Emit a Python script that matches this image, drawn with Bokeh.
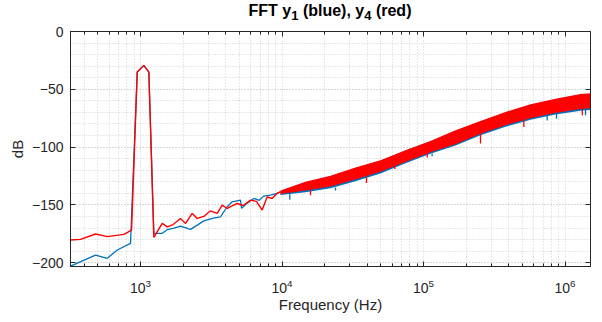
import numpy as np
from bokeh.plotting import figure
from bokeh.layouts import column
from bokeh.models import (LogAxis, LinearAxis, FixedTicker, Range1d, LogTickFormatter, Div)
from bokeh.embed import file_html
from bokeh.resources import INLINE

# ---------------- data ----------------
# explicit low/mid-frequency traces (Hz, dB)
blue_f = [320, 481, 582, 685, 850, 948, 1055, 1145, 1242, 1423, 1544, 1700, 1916,
          2256, 2516, 2800, 3210, 3670, 4098, 4445, 5088, 5180, 5600, 6325, 6900,
          7420, 8300, 9220, 9750]
blue_db = [-202.9, -193.4, -196.2, -189.0, -183.3, -35.1, -29.3, -35.1, -174.6,
           -174.6, -171.5, -170.3, -168.3, -171.2, -167.5, -163.8, -161.7, -160.3,
           -151.6, -147.3, -145.9, -153.0, -149.0, -144.4, -146.0, -142.4, -141.5,
           -140.1, -138.7]

red_f = [320, 376, 481, 582, 763, 864, 948, 1055, 1145, 1242, 1423, 1544, 1700,
         1916, 2080, 2318, 2516, 2800, 3122, 3482, 3778, 4098, 4400, 4815, 5300,
         5985, 6600, 7240, 7857, 8500, 9220, 9750]
red_db = [-180.4, -179.8, -175.2, -177.5, -175.5, -171.8, -35.1, -29.3, -35.1,
          -178.1, -166.0, -169.0, -167.0, -161.7, -166.0, -157.4, -161.7, -160.0,
          -155.1, -157.4, -150.2, -153.1, -151.0, -148.8, -150.5, -145.9, -147.0,
          -154.5, -143.0, -144.5, -140.1, -138.7]

# dense high-frequency noise band: upper / lower envelope (Hz, dB)
band_f = [9750, 14660, 22030, 33060, 49650, 74600, 112000, 168300, 252800,
          380000, 570500, 857000, 1288000, 1514000]
red_hi = [-137.5, -130.0, -124.8, -117.7, -111.4, -102.7, -94.7, -85.5, -77.4,
          -69.6, -63.0, -58.1, -54.0, -53.4]
red_lo = [-140.5, -137.5, -134.0, -128.0, -121.4, -112.8, -104.5, -97.5, -88.5,
          -81.0, -75.0, -70.5, -67.0, -66.5]
blue_hi = [-138.0, -130.5, -125.3, -118.0, -111.8, -103.0, -95.0, -86.0, -77.8,
           -70.0, -63.5, -58.6, -54.6, -54.0]
blue_lo = [-141.5, -139.0, -135.5, -129.5, -122.8, -114.0, -105.8, -98.7, -89.7,
           -82.3, -76.4, -71.9, -68.5, -68.0]

# downward spikes below the band (Hz, band-edge dB, spike dB)
red_spk_f = [15890, 39540, 62650, 106200, 252800, 511700, 1325000]
red_spk_top = [-137.0, -126.0, -115.0, -105.0, -88.5, -76.0, -67.0]
red_spk_db = [-141.6, -131.0, -119.0, -109.0, -97.0, -82.6, -72.5]

blue_spk_f = [11350, 23880, 115000, 748000, 871000, 1396000]
blue_spk_top = [-140.0, -135.0, -105.5, -73.0, -71.0, -68.0]
blue_spk_db = [-145.5, -137.5, -108.0, -77.0, -75.5, -72.5]

x_major = [1e3, 1e4, 1e5, 1e6]
y_major = [-200, -150, -100, -50, 0]

# ---------------- figure ----------------
BLUE = "#0072BD"
RED = "#FF0000"
AX = "#262626"
FONT = "Liberation Sans"
FW, FH = 520, 235
TITLE_H = 20

XMIN, XMAX = 320, 1.514e6
p = figure(frame_width=FW, frame_height=FH, x_axis_type="log",
           x_range=Range1d(XMIN, XMAX), y_range=Range1d(-203.3, 0),
           output_backend="svg", toolbar_location=None,
           min_border_left=70, min_border_right=4, min_border_top=31 - TITLE_H,
           min_border_bottom=50, background_fill_color="white",
           border_fill_color="white", outline_line_color=AX)

x_minor = [m * d for d in [1e2, 1e3, 1e4, 1e5, 1e6] for m in range(2, 10)]
xt = FixedTicker(ticks=x_major, minor_ticks=x_minor)
yt = FixedTicker(ticks=y_major, minor_ticks=list(range(-200, 1, 10)))

p.xaxis.ticker = xt
p.yaxis.ticker = yt
p.xaxis.formatter = LogTickFormatter()

# traces
p.varea(x=band_f, y1=blue_lo, y2=blue_hi, fill_color=BLUE)
p.segment(x0=blue_spk_f, y0=blue_spk_top, x1=blue_spk_f, y1=blue_spk_db,
          line_color=BLUE, line_width=1.3)
p.line(blue_f, blue_db, line_color=BLUE, line_width=1.3)
p.varea(x=band_f, y1=red_lo, y2=red_hi, fill_color=RED)
p.segment(x0=red_spk_f, y0=red_spk_top, x1=red_spk_f, y1=red_spk_db,
          line_color=RED, line_width=1.3)
p.line(red_f, red_db, line_color=RED, line_width=1.4)

# grids
for g in (p.xgrid, p.ygrid):
    g.grid_line_color = "#b0b0b0"
    g.grid_line_alpha = 0.6
    g.grid_line_dash = "1 2"
    g.minor_grid_line_color = "#b0b0b0"
    g.minor_grid_line_alpha = 0.6
    g.minor_grid_line_dash = "1 2"

def style_axis(ax, labels=True, minor=True):
    ax.axis_line_color = AX
    ax.major_tick_line_color = AX
    ax.minor_tick_line_color = AX
    ax.major_tick_in = 5
    ax.major_tick_out = 0
    ax.minor_tick_in = 3 if minor else 0
    ax.minor_tick_out = 0
    ax.major_label_text_font = FONT
    ax.axis_label_text_font = FONT
    ax.axis_label_text_color = AX
    ax.axis_label_text_font_size = "15px"
    ax.axis_label_text_font_style = "normal"
    if labels:
        ax.major_label_text_color = AX
        ax.major_label_text_font_size = "14px"
    else:
        ax.major_label_text_color = None
        ax.major_label_text_font_size = "1px"

style_axis(p.xaxis[0])
style_axis(p.yaxis[0], minor=False)
p.xaxis.axis_label = "Frequency (Hz)"
p.yaxis.axis_label = "dB"
p.xaxis.major_label_standoff = 12
p.yaxis.major_label_standoff = 7
p.xaxis.axis_label_standoff = 0
p.yaxis.axis_label_standoff = 3

top = LogAxis(ticker=xt)
style_axis(top, labels=False)
top.major_label_standoff = 0
p.add_layout(top, "above")
right = LinearAxis(ticker=yt)
style_axis(right, labels=False, minor=False)
right.major_label_standoff = 0
p.add_layout(right, "right")

# title (HTML, with lowered subscripts), centred over the frame
sub = '<span style="font-size:13px;position:relative;top:4px">{}</span>'
title_html = (
    f'<div style="width:{FW}px;margin-left:70px;text-align:center;'
    f'font-family:\'{FONT}\';font-weight:bold;font-size:16px;line-height:18px;'
    f'padding-top:2px;color:black;white-space:nowrap;">'
    f'FFT y{sub.format("1")} (blue), y{sub.format("4")} (red)</div>'
)
title = Div(text=title_html, width=70 + FW + 4, height=TITLE_H, margin=0)

layout = column(title, p, spacing=0)
open("out.html", "w").write(file_html(layout, INLINE))
